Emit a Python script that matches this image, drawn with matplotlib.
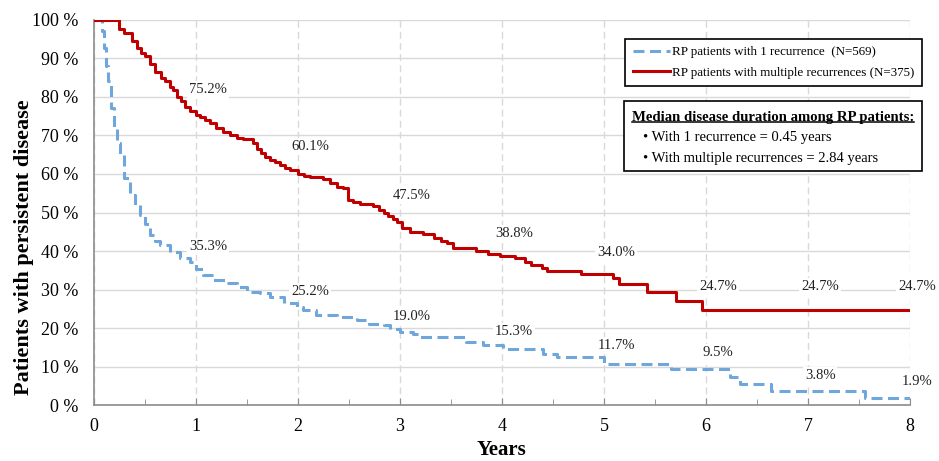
import matplotlib
matplotlib.use("Agg")
import matplotlib.pyplot as plt
from matplotlib.patches import Rectangle
from matplotlib.lines import Line2D
from matplotlib.ticker import MultipleLocator, FuncFormatter

plt.rcParams["font.family"] = ["Liberation Serif", "DejaVu Serif"]

# Kaplan-Meier style curves (years, % persistent)
single_t = [0, 0.08, 0.10, 0.12, 0.14, 0.17, 0.20, 0.23, 0.26, 0.30, 0.35, 0.40, 0.45,
            0.50, 0.55, 0.60, 0.65, 0.745, 0.84, 0.94, 1.0, 1.07, 1.17, 1.30, 1.40, 1.50,
            1.63, 1.73, 1.86, 1.99, 2.05, 2.18, 2.38, 2.58, 2.70, 2.84, 2.90, 3.0, 3.13,
            3.20, 3.65, 3.81, 4.01, 4.40, 4.54, 5.0, 5.66, 6.24, 6.33, 6.64, 7.56, 8.0]
single_v = [100, 97, 92.6, 88, 84, 77, 71.9, 68, 64.9, 58.9, 54.5, 52, 49.4,
            47, 44.2, 42.5, 41.6, 39.8, 38.1, 37.2, 35.3, 33.8, 32.5, 31.6, 30.7, 29.4,
            29.0, 28.0, 26.4, 25.4, 24.7, 23.4, 22.9, 22.1, 21.2, 20.8, 19.9, 19.0, 18.4,
            17.6, 16.4, 15.6, 14.7, 13.4, 12.5, 10.8, 9.5, 7.4, 5.6, 3.7, 1.9, 1.9]

multi_t = [0, 0.25, 0.30, 0.37, 0.42, 0.46, 0.50, 0.55, 0.60, 0.66, 0.70, 0.745, 0.78,
           0.81, 0.85, 0.89, 0.94, 1.0, 1.04, 1.09, 1.14, 1.20, 1.27, 1.33, 1.40, 1.46,
           1.56, 1.60, 1.64, 1.68, 1.73, 1.78, 1.82, 1.87, 1.92, 2.0, 2.06, 2.12, 2.25,
           2.31, 2.38, 2.44, 2.49, 2.54, 2.61, 2.74, 2.80, 2.84, 2.88, 2.93, 2.97, 3.02,
           3.10, 3.23, 3.33, 3.40, 3.46, 3.52, 3.75, 3.86, 3.98, 4.13, 4.23, 4.29, 4.39,
           4.44, 4.78, 5.09, 5.15, 5.42, 5.71, 5.96, 8.0]
multi_v = [100, 97.5, 96.5, 94.5, 92.6, 91.5, 90.5, 88.5, 86.5, 85.0, 84.0, 82.5, 81.8,
           80.0, 79.0, 77.5, 76.3, 75.2, 74.8, 74.0, 73.2, 72.0, 71.0, 70.0, 69.3, 69.0,
           68.0, 66.5, 65.4, 64.5, 63.6, 63.0, 62.3, 61.5, 61.0, 60.1, 59.5, 59.1, 58.6,
           57.6, 56.7, 56.3, 53.2, 52.8, 52.2, 51.7, 50.6, 49.8, 49.1, 48.3, 47.5, 45.9,
           45.0, 44.4, 43.3, 42.5, 42.0, 40.7, 40.0, 39.2, 38.7, 38.1, 37.2, 36.5, 35.7,
           34.9, 34.0, 32.9, 31.5, 29.3, 27.0, 24.7, 24.7]

# yearly point labels
label_years = [1, 2, 3, 4, 5, 6, 7, 8]
multi_labels = ["75.2%", "60.1%", "47.5%", "38.8%", "34.0%", "24.7%", "24.7%", "24.7%"]
multi_label_y = [81.8, 67.1, 54.4, 44.6, 39.5, 30.9, 30.9, 30.9]
single_labels = ["35.3%", "25.2%", "19.0%", "15.3%", "11.7%", "9.5%", "3.8%", "1.9%"]
single_label_y = [41.3, 29.4, 22.9, 19.2, 15.6, 13.6, 7.8, 6.1]

single_name = "RP patients with 1 recurrence  (N=569)"
multi_name = "RP patients with multiple recurrences (N=375)"
box_title = "Median disease duration among RP patients:"
box_lines = ["\u2022 With 1 recurrence = 0.45 years",
             "\u2022 With multiple recurrences = 2.84 years"]

RED = "#C00000"
BLUE = "#6FA6DC"

fig = plt.figure(figsize=(9.39, 4.61), dpi=100)
ax = fig.add_axes([0.100, 0.121, 0.869, 0.836])

ax.step(single_t, single_v, where="post", color=BLUE, lw=2.2,
        linestyle=(0, (3.6, 1.8)), label=single_name, zorder=3)
ax.step(multi_t, multi_v, where="post", color=RED, lw=2.2,
        label=multi_name, zorder=4)


def point_label(x, y, s):
    ax.text(min(x + 0.12, 8.07), y, s, ha="center", va="center", fontsize=10.5,
            color="#222222", bbox=dict(facecolor="white", edgecolor="none", pad=1.5),
            zorder=2, clip_on=False)


for x, y, s in zip(label_years, multi_label_y, multi_labels):
    point_label(x, y, s)
for x, y, s in zip(label_years, single_label_y, single_labels):
    point_label(x, y, s)

ax.set_xlim(0, 8)
ax.set_ylim(0, 100)
ax.xaxis.set_major_locator(MultipleLocator(1))
ax.xaxis.set_minor_locator(MultipleLocator(0.5))
ax.yaxis.set_major_locator(MultipleLocator(10))
ax.yaxis.set_major_formatter(FuncFormatter(lambda v, p: f"{int(v)} %"))
ax.grid(axis="y", color="#d9d9d9", lw=1.0, zorder=0)
ax.grid(axis="x", color="#d9d9d9", lw=1.0, linestyle=(0, (5, 3)), zorder=0)
ax.set_axisbelow(True)
for side in ["top", "right"]:
    ax.spines[side].set_visible(False)
for side in ["left", "bottom"]:
    ax.spines[side].set_color("#8c8c8c")
    ax.spines[side].set_linewidth(1.2)
ax.tick_params(axis="x", which="major", direction="in", length=5, color="#8c8c8c",
               labelsize=13, pad=9)
ax.tick_params(axis="x", which="minor", direction="in", length=4, color="#8c8c8c")
ax.tick_params(axis="y", length=0, labelsize=13, pad=11)

ax.set_xlabel("Years", fontsize=15, fontweight="bold", labelpad=4)
ax.set_ylabel("Patients with persistent disease", fontsize=16, fontweight="bold")
ax.yaxis.set_label_coords(-0.074, 0.41)

leg = ax.legend(loc="upper right", bbox_to_anchor=(922 / 939, 1 - 39 / 461),
                bbox_transform=fig.transFigure, borderaxespad=0, fontsize=9.4,
                handlelength=2.9, handletextpad=0.15, fancybox=False, framealpha=1,
                edgecolor="black", borderpad=0.55, labelspacing=0.65)
leg.get_frame().set_linewidth(1.2)
leg.set_zorder(6)

# median duration box
fig.patches.append(Rectangle((624 / 939, 1 - 170.7 / 461), 298 / 939, 69.7 / 461,
                             transform=fig.transFigure, facecolor="white",
                             edgecolor="black", lw=1.2, zorder=6))
title = fig.text(773 / 939, 1 - 117 / 461, box_title, ha="center", va="center",
                 fontsize=10.6, fontweight="bold", zorder=7)
fig.text(643 / 939, 1 - 137.5 / 461, box_lines[0], ha="left", va="center", fontsize=10.5, zorder=7)
fig.text(643 / 939, 1 - 158.3 / 461, box_lines[1], ha="left", va="center", fontsize=10.5, zorder=7)

fig.canvas.draw()
bb = title.get_window_extent().transformed(fig.transFigure.inverted())
fig.lines.append(Line2D([bb.x0, bb.x1], [bb.y0 + 0.004, bb.y0 + 0.004],
                        transform=fig.transFigure, color="black", lw=1.1, zorder=7))

fig.savefig("out.png", dpi=100)
